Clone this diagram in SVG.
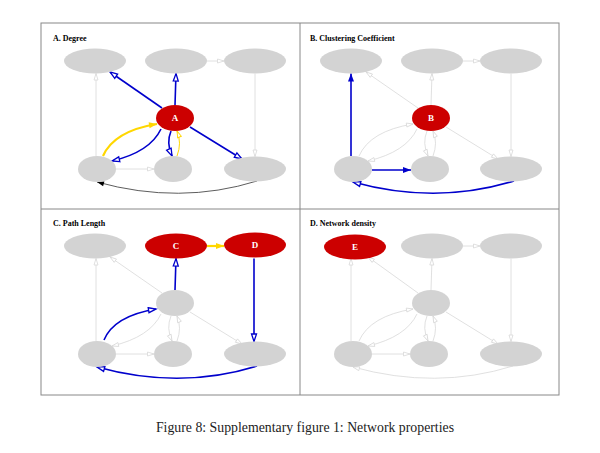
<svg xmlns="http://www.w3.org/2000/svg" width="600" height="453" viewBox="0 0 600 453">
<style>
.frame{fill:none;stroke:#888;stroke-width:1}
.n{fill:#d3d3d3}
.r{fill:#cc0000}
.lbl{font-family:"Liberation Serif",serif;font-weight:bold;font-size:9px;fill:#fff;text-anchor:middle}
.title{font-family:"Liberation Serif",serif;font-weight:bold;font-size:8px;fill:#000}
.cap{font-family:"Liberation Serif",serif;font-size:13.8px;fill:#222;text-anchor:middle}
.g{fill:none;stroke:#d8d8d8;stroke-width:0.8;marker-end:url(#og)}
.b{fill:none;stroke:#0000cc;stroke-width:1.6;marker-end:url(#ob)}
.bf{fill:none;stroke:#0000cc;stroke-width:1.6;marker-end:url(#fb)}
.y{fill:none;stroke:#ffd700;stroke-width:2.2;marker-end:url(#fy)}
.yo{fill:none;stroke:#ffd700;stroke-width:1;marker-end:url(#oy)}
.k{fill:none;stroke:#333;stroke-width:0.8;marker-end:url(#fk)}
</style>
<defs>
<marker id="og" markerUnits="userSpaceOnUse" markerWidth="8" markerHeight="6" refX="6.5" refY="2.5" orient="auto" overflow="visible"><path d="M0,0.5 L6.5,2.5 L0,4.5 z" fill="#fff" stroke="#d8d8d8" stroke-width="0.8"/></marker>
<marker id="ob" markerUnits="userSpaceOnUse" markerWidth="9" markerHeight="7" refX="7.5" refY="3" orient="auto" overflow="visible"><path d="M0,0.5 L7.5,3 L0,5.5 z" fill="#fff" stroke="#0000cc" stroke-width="1.3"/></marker>
<marker id="fb" markerUnits="userSpaceOnUse" markerWidth="9" markerHeight="7" refX="8" refY="3" orient="auto" overflow="visible"><path d="M0,0 L8,3 L0,6 z" fill="#0000cc"/></marker>
<marker id="fy" markerUnits="userSpaceOnUse" markerWidth="9" markerHeight="7" refX="8" refY="3" orient="auto" overflow="visible"><path d="M0,0 L8,3 L0,6 z" fill="#ffd700"/></marker>
<marker id="oy" markerUnits="userSpaceOnUse" markerWidth="8" markerHeight="6" refX="6.5" refY="2.5" orient="auto" overflow="visible"><path d="M0,0.5 L6.5,2.5 L0,4.5 z" fill="#fff" stroke="#ffd700" stroke-width="0.9"/></marker>
<marker id="fk" markerUnits="userSpaceOnUse" markerWidth="8" markerHeight="6" refX="7" refY="2.5" orient="auto" overflow="visible"><path d="M0,0 L7,2.5 L0,5 z" fill="#000"/></marker>
</defs>
<rect x="41" y="23" width="518" height="372" class="frame"/>
<line x1="300" y1="23" x2="300" y2="395" class="frame"/>
<line x1="41" y1="209" x2="559" y2="209" class="frame"/>

<!-- Panel A -->
<g id="panelA">
<text class="title" x="53" y="41">A. Degree</text>
<g id="connectorsA">
<path class="g" d="M207,61 L224,61"/>
<path class="g" d="M255,73.5 L255,156.5"/>
<path class="g" d="M96,156 L96,73.5"/>
<path class="g" d="M116,169 L154,169"/>
<path class="b" d="M162,108 L110,72"/>
<path class="b" d="M175,105 L176,73.5"/>
<path class="b" d="M190,127 L242,159"/>
<path class="b" d="M161,129 Q150,152 112,161"/>
<path class="b" d="M171,131 Q166,143 172,156"/>
<path class="y" d="M103,156 Q114,131 157,124"/>
<path class="yo" d="M177,156 Q182,143 177,131"/>
<path class="k" d="M257,181 Q180,205 97,182"/>
</g>
<g id="A_TL"><ellipse class="n" cx="95" cy="61" rx="31" ry="12.5"/></g>
<g id="A_TM"><ellipse class="n" cx="176" cy="61" rx="31" ry="12.5"/></g>
<g id="A_TR"><ellipse class="n" cx="255" cy="61" rx="31" ry="12.5"/></g>
<g id="A_M"><ellipse class="r" cx="175" cy="118" rx="19" ry="13"/><text class="lbl" x="175" y="121">A</text></g>
<g id="A_BL"><ellipse class="n" cx="97" cy="169" rx="19" ry="13"/></g>
<g id="A_BM"><ellipse class="n" cx="173" cy="169" rx="19" ry="13"/></g>
<g id="A_BR"><ellipse class="n" cx="255" cy="169" rx="31" ry="12.5"/></g>
</g>

<!-- Panel B -->
<g id="panelB" transform="translate(256,0)">
<text class="title" x="54" y="41">B. Clustering Coefficient</text>
<g id="connectorsB">
<path class="g" d="M207,61 L224,61"/>
<path class="g" d="M255,73.5 L255,156.5"/>
<path class="g" d="M162,108 L110,72"/>
<path class="g" d="M175,105 L176,73.5"/>
<path class="g" d="M190,127 L242,159"/>
<path class="g" d="M161,129 Q150,152 112,161"/>
<path class="g" d="M103,156 Q114,131 157,124"/>
<path class="g" d="M171,131 Q166,143 172,156"/>
<path class="g" d="M177,156 Q182,143 177,131"/>
<path class="bf" d="M95,156 L95,73.5"/>
<path class="bf" d="M116,170 L155,170"/>
<path class="b" d="M258,181 Q180,205 97,182"/>
</g>
<g id="B_TL"><ellipse class="n" cx="95" cy="61" rx="31" ry="12.5"/></g>
<g id="B_TM"><ellipse class="n" cx="176" cy="61" rx="31" ry="12.5"/></g>
<g id="B_TR"><ellipse class="n" cx="255" cy="61" rx="31" ry="12.5"/></g>
<g id="B_M"><ellipse class="r" cx="175" cy="118" rx="19" ry="13"/><text class="lbl" x="175" y="121">B</text></g>
<g id="B_BL"><ellipse class="n" cx="97" cy="169" rx="19" ry="13"/></g>
<g id="B_BM"><ellipse class="n" cx="174" cy="169" rx="19" ry="13"/></g>
<g id="B_BR"><ellipse class="n" cx="255" cy="169" rx="31" ry="12.5"/></g>
</g>

<!-- Panel C -->
<g id="panelC" transform="translate(0,185)">
<text class="title" x="53" y="41">C. Path Length</text>
<g id="connectorsC">
<path class="g" d="M96,156 L96,73.5"/>
<path class="g" d="M116,169 L154,169"/>
<path class="g" d="M162,108 L110,72"/>
<path class="g" d="M190,127 L242,159"/>
<path class="g" d="M161,129 Q150,152 112,161"/>
<path class="g" d="M171,131 Q166,143 172,156"/>
<path class="g" d="M177,156 Q182,143 177,131"/>
<path class="y" d="M207,61 L224,61"/>
<path class="b" d="M175,105 L176,73.5"/>
<path class="b" d="M254,73.5 L254,156.5"/>
<path class="b" d="M104,155 Q114,131 156,124"/>
<path class="b" d="M257,181 Q180,205 97,182"/>
</g>
<g id="C_TL"><ellipse class="n" cx="95" cy="61" rx="31" ry="12.5"/></g>
<g id="C_TM"><ellipse class="r" cx="176" cy="61" rx="31" ry="12.5"/><text class="lbl" x="176" y="64">C</text></g>
<g id="C_TR"><ellipse class="r" cx="255" cy="60" rx="31" ry="12.5"/><text class="lbl" x="255" y="63">D</text></g>
<g id="C_M"><ellipse class="n" cx="175" cy="118" rx="19" ry="13"/></g>
<g id="C_BL"><ellipse class="n" cx="97" cy="169" rx="19" ry="13"/></g>
<g id="C_BM"><ellipse class="n" cx="173" cy="169" rx="19" ry="13"/></g>
<g id="C_BR"><ellipse class="n" cx="255" cy="169" rx="31" ry="12.5"/></g>
</g>

<!-- Panel D -->
<g id="panelD" transform="translate(256,185)">
<text class="title" x="54" y="41">D. Network density</text>
<g id="connectorsD">
<path class="g" d="M207,61 L224,61"/>
<path class="g" d="M255,73.5 L255,156.5"/>
<path class="g" d="M95,156 L95,73.5"/>
<path class="g" d="M116,169 L154,169"/>
<path class="g" d="M162,108 L112,72"/>
<path class="g" d="M175,105 L176,73.5"/>
<path class="g" d="M190,127 L242,159"/>
<path class="g" d="M161,129 Q150,152 112,161"/>
<path class="g" d="M103,156 Q114,131 157,124"/>
<path class="g" d="M171,131 Q166,143 172,156"/>
<path class="g" d="M177,156 Q182,143 177,131"/>
<path class="g" d="M257,181 Q180,205 97,182"/>
</g>
<g id="D_TL"><ellipse class="r" cx="99" cy="62" rx="31" ry="12.5"/><text class="lbl" x="99" y="65">E</text></g>
<g id="D_TM"><ellipse class="n" cx="176" cy="61" rx="31" ry="12.5"/></g>
<g id="D_TR"><ellipse class="n" cx="255" cy="61" rx="31" ry="12.5"/></g>
<g id="D_M"><ellipse class="n" cx="175" cy="118" rx="19" ry="13"/></g>
<g id="D_BL"><ellipse class="n" cx="97" cy="169" rx="19" ry="13"/></g>
<g id="D_BM"><ellipse class="n" cx="173" cy="169" rx="19" ry="13"/></g>
<g id="D_BR"><ellipse class="n" cx="255" cy="169" rx="31" ry="12.5"/></g>
</g>

<text class="cap" x="305" y="432">Figure 8: Supplementary figure 1: Network properties</text>
</svg>
